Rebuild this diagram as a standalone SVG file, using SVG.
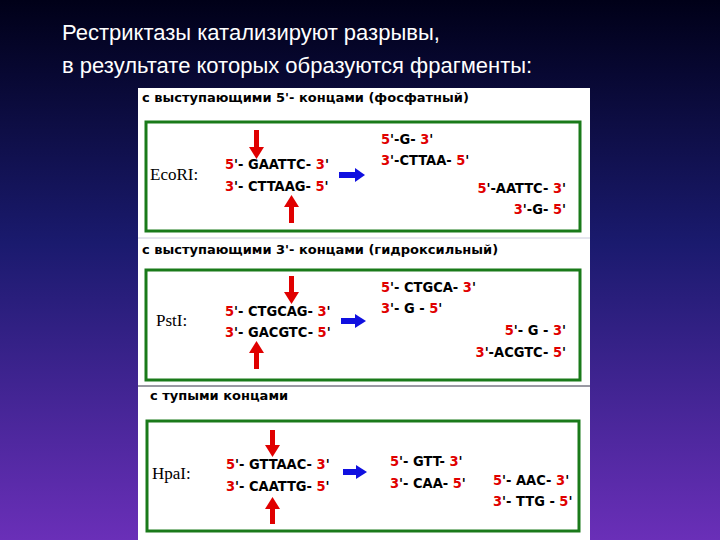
<svg xmlns="http://www.w3.org/2000/svg" width="720" height="540" viewBox="0 0 720 540">
<defs>
<linearGradient id="bg" x1="0" y1="0" x2="0" y2="1"><stop offset="0" stop-color="#000018"/><stop offset="0.45" stop-color="#1a1a6e"/><stop offset="1" stop-color="#6a2fb8"/></linearGradient>
</defs>
<style>
.t{font-family:"Liberation Sans",Arial,sans-serif;fill:#fff;font-size:22px}
.h{font-family:"DejaVu Sans",sans-serif;font-weight:bold;font-size:13px;fill:#000}
.n{font-family:"Liberation Serif",serif;font-size:17px;fill:#000}
.s{font-family:"DejaVu Sans Condensed","Liberation Sans",sans-serif;font-weight:bold;font-size:14.5px;fill:#000}
.r{fill:#e00000}
.box{fill:none;stroke:#1a7a1a;stroke-width:3}
.rt{fill:#e00000}
.ba{fill:#1010e0}
</style>
<rect width="720" height="540" fill="url(#bg)"/>
<text class="t" x="62" y="40">Рестриктазы катализируют разрывы,</text>
<text class="t" x="62" y="73">в результате которых образуются фрагменты:</text>
<rect x="138" y="88" width="452" height="452" fill="#fff"/>
<line x1="138" y1="238" x2="590" y2="238" stroke="#ccd" stroke-width="1"/>
<line x1="138" y1="386" x2="590" y2="386" stroke="#334" stroke-width="1"/>
<g id="eco">
<text class="h" x="142" y="102">с выступающими 5'- концами  (фосфатный)</text>
<rect class="box" x="146" y="122" width="434" height="109"/>
<text class="n" x="150" y="180">EcoRI:</text>
<text class="s" x="225" y="169"><tspan class="r">5</tspan>'- GAATTC- <tspan class="r">3</tspan>'</text>
<text class="s" x="225" y="191"><tspan class="r">3</tspan>'- CTTAAG- <tspan class="r">5</tspan>'</text>
<rect class="rt" x="254" y="130" width="5" height="18"/><path class="rt" d="M249,147 L264,147 L256.5,159 Z"/>
<rect class="rt" x="289" y="206" width="5" height="17"/><path class="rt" d="M284,207 L299,207 L291.5,195 Z"/>
<rect class="ba" x="339" y="172" width="17" height="6"/><path class="ba" d="M355,168 L365,175 L355,182 Z"/>
<text class="s" x="381" y="144"><tspan class="r">5</tspan>'-G- <tspan class="r">3</tspan>'</text>
<text class="s" x="381" y="165"><tspan class="r">3</tspan>'-CTTAA- <tspan class="r">5</tspan>'</text>
<text class="s" x="566" y="193" text-anchor="end"><tspan class="r">5</tspan>'-AATTC- <tspan class="r">3</tspan>'</text>
<text class="s" x="566" y="214" text-anchor="end"><tspan class="r">3</tspan>'-G- <tspan class="r">5</tspan>'</text>
</g>
<g id="pst">
<text class="h" x="142" y="254">с выступающими 3'- концами  (гидроксильный)</text>
<rect class="box" x="146" y="270" width="434" height="110"/>
<text class="n" x="156" y="326">PstI:</text>
<text class="s" x="225" y="316"><tspan class="r">5</tspan>'- CTGCAG- <tspan class="r">3</tspan>'</text>
<text class="s" x="225" y="337"><tspan class="r">3</tspan>'- GACGTC- <tspan class="r">5</tspan>'</text>
<rect class="rt" x="289" y="276" width="5" height="17"/><path class="rt" d="M284,292 L299,292 L291.5,304 Z"/>
<rect class="rt" x="254" y="352" width="5" height="17"/><path class="rt" d="M249,353 L264,353 L256.5,341 Z"/>
<rect class="ba" x="341" y="318" width="15" height="6"/><path class="ba" d="M355,314 L366,321 L355,328 Z"/>
<text class="s" x="381" y="292"><tspan class="r">5</tspan>'- CTGCA- <tspan class="r">3</tspan>'</text>
<text class="s" x="381" y="313"><tspan class="r">3</tspan>'- G - <tspan class="r">5</tspan>'</text>
<text class="s" x="566" y="335" text-anchor="end"><tspan class="r">5</tspan>'- G - <tspan class="r">3</tspan>'</text>
<text class="s" x="566" y="357" text-anchor="end"><tspan class="r">3</tspan>'-ACGTC- <tspan class="r">5</tspan>'</text>
</g>
<g id="hpa">
<text class="h" x="150" y="400">с тупыми концами</text>
<rect class="box" x="147" y="421" width="432" height="110"/>
<text class="n" x="152" y="479">HpaI:</text>
<text class="s" x="226" y="469"><tspan class="r">5</tspan>'- GTTAAC- <tspan class="r">3</tspan>'</text>
<text class="s" x="226" y="491"><tspan class="r">3</tspan>'- CAATTG- <tspan class="r">5</tspan>'</text>
<rect class="rt" x="270" y="430" width="5" height="16"/><path class="rt" d="M265,445 L280,445 L272.5,457 Z"/>
<rect class="rt" x="270" y="508" width="5" height="16"/><path class="rt" d="M265,509 L280,509 L272.5,497 Z"/>
<rect class="ba" x="343" y="469" width="14" height="6"/><path class="ba" d="M356,465 L367,472 L356,479 Z"/>
<text class="s" x="390" y="466"><tspan class="r">5</tspan>'- GTT- <tspan class="r">3</tspan>'</text>
<text class="s" x="390" y="488"><tspan class="r">3</tspan>'- CAA- <tspan class="r">5</tspan>'</text>
<text class="s" x="493" y="485"><tspan class="r">5</tspan>'- AAC- <tspan class="r">3</tspan>'</text>
<text class="s" x="493" y="506"><tspan class="r">3</tspan>'- TTG - <tspan class="r">5</tspan>'</text>
</g>
</svg>
